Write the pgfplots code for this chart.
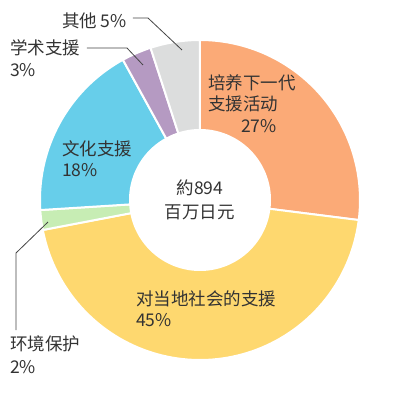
\documentclass[border=0pt]{standalone}
\usepackage{fontspec}
\setmainfont{Noto Sans CJK SC}
\usepackage{pgfplots}
\usepackage{pgfplotstable}
\pgfplotsset{compat=1.18}
\definecolor{cOrange}{HTML}{FBAA77}
\definecolor{cYellow}{HTML}{FED86F}
\definecolor{cGreen}{HTML}{C7EDB4}
\definecolor{cBlue}{HTML}{67CEEA}
\definecolor{cPurple}{HTML}{B59AC2}
\definecolor{cGray}{HTML}{DCDDDD}
\definecolor{txt}{HTML}{333333}
\definecolor{lead}{HTML}{444444}
\pgfplotstableread{
pct color
27 cOrange
45 cYellow
2 cGreen
18 cBlue
3 cPurple
5 cGray
}\piedata
\begin{document}
\begin{tikzpicture}
\useasboundingbox (-200pt,-200pt) rectangle (200pt,200pt);
\begin{axis}[
  at={(0pt,0pt)}, anchor=center,
  scale only axis, width=320pt, height=320pt,
  xmin=-160, xmax=160, ymin=-160, ymax=160,
  hide axis, clip=false,
]
\def\startang{90}
\pgfplotsforeachungrouped \i in {0,...,5}{
  \pgfplotstablegetelem{\i}{pct}\of\piedata \let\pct\pgfplotsretval
  \pgfplotstablegetelem{\i}{color}\of\piedata \let\col\pgfplotsretval
  \pgfmathsetmacro\endang{\startang-3.6*\pct}
  \edef\doplot{\noexpand\addplot[fill=\col, draw=white, line width=2pt, line join=round, domain=\startang:\endang, samples=90] ({160*cos(x)},{160*sin(x)}) -- (axis cs:0,0) -- cycle;}
  \doplot
  \global\let\startang\endang
}
\addplot[fill=white, draw=none, domain=0:360, samples=180] ({71*cos(x)},{71*sin(x)}) -- cycle;
% leader lines
\draw[lead, line width=0.8pt] (axis cs:-67,182) -- (axis cs:-52,182) -- (axis cs:-18,150);
\draw[lead, line width=0.8pt] (axis cs:-113,152) -- (axis cs:-73,152) -- (axis cs:-57,135);
\draw[lead, line width=0.8pt] (axis cs:-152,-22) -- (axis cs:-184,-53) -- (axis cs:-184,-130);
% labels
\begin{scope}[every node/.style={inner sep=0pt, text=txt, font=\fontsize{17.5}{21}\selectfont}]
\node[anchor=east] at (axis cs:-73,179) {其他 5\%};
\node[anchor=west] at (axis cs:-190,152) {学术支援};
\node[anchor=west] at (axis cs:-190,130) {3\%};
\node[anchor=west] at (axis cs:8,117) {培养下一代};
\node[anchor=west] at (axis cs:8,96) {支援活动};
\node[anchor=east] at (axis cs:77,74) {27\%};
\node[anchor=west] at (axis cs:-138,51) {文化支援};
\node[anchor=west] at (axis cs:-138,30) {18\%};
\node[anchor=center] at (axis cs:0,12) {約894};
\node[anchor=center] at (axis cs:0,-12) {百万日元};
\node[anchor=west] at (axis cs:-64,-99) {对当地社会的支援};
\node[anchor=west] at (axis cs:-64,-120) {45\%};
\node[anchor=west] at (axis cs:-190,-144) {环境保护};
\node[anchor=west] at (axis cs:-190,-167) {2\%};
\end{scope}
\end{axis}
\end{tikzpicture}
\end{document}
